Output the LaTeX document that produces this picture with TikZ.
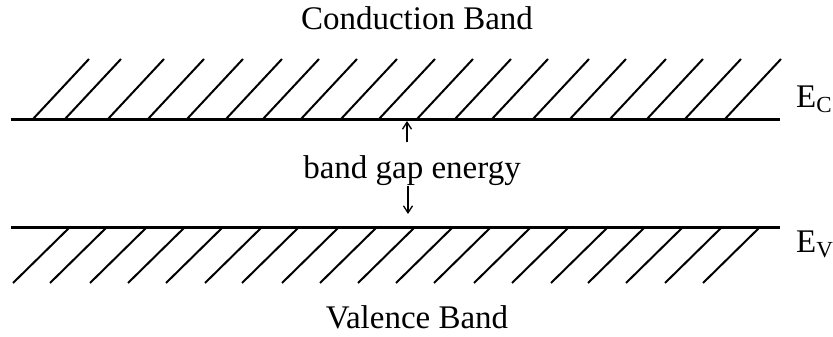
\documentclass[tikz,border=0pt]{standalone}
\usepackage{fontspec}
\setmainfont{Liberation Serif}
\usetikzlibrary{arrows.meta}
\begin{document}
\begin{tikzpicture}[x=1pt,y=-1pt,
  level/.style={line width=3pt},
  hatch/.style={line width=2pt},
  gaparrow/.style={line width=1.3pt,-{Straight Barb[length=7pt,width=9pt]}},
  lbl/.style={font=\fontsize{33}{40}\selectfont, inner sep=0pt, anchor=base}]
\useasboundingbox (0,0) rectangle (833,337);
% conduction band edge
\coordinate (cl) at (11,119);
\coordinate (cr) at (780,119);
\draw[level] (cl) -- (cr);
\foreach \x in {33,65,108,148,187,226,263,301,341,379,417,455,492,533,570,610,647,685,725}
  \draw[hatch] (\x,119) -- ++(56,-60);
% valence band edge
\coordinate (vl) at (11,227);
\coordinate (vr) at (780,227);
\draw[level] (vl) -- (vr);
\foreach \x in {70,107,147,185,223,262,299,339,377,415,453,491,531,569,608,645,683,722,760}
  \draw[hatch] (\x,227) -- ++(-57,56);
% labels
\node[lbl] (cb) at (417,30) {Conduction Band};
\node[lbl] (bg) at (412,178) {band gap energy};
\node[lbl] (vb) at (417,328) {Valence Band};
\node[lbl, anchor=base west] (ec) at (796,107) {E\raisebox{-5pt}{\fontsize{23}{23}\selectfont C}};
\node[lbl, anchor=base west] (ev) at (796,252) {E\raisebox{-5pt}{\fontsize{23}{23}\selectfont V}};
% arrows
\coordinate (upS) at (407,142);
\coordinate (upE) at (407,121);
\coordinate (dnS) at (408,186);
\coordinate (dnE) at (408,214);
\draw[gaparrow] (upS) -- (upE);
\draw[gaparrow] (dnS) -- (dnE);
\end{tikzpicture}
\end{document}
